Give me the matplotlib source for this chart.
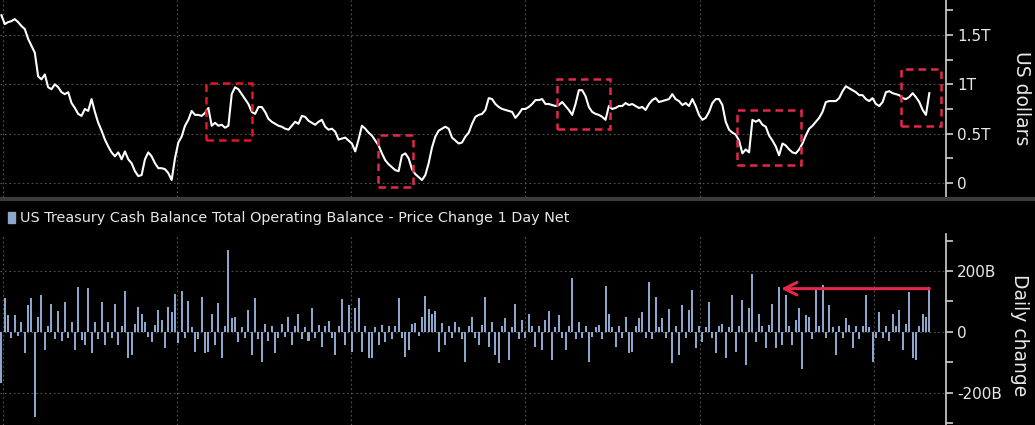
import matplotlib
matplotlib.use("Agg")
import matplotlib.pyplot as plt
import matplotlib.dates as mdates
from matplotlib.lines import Line2D
from matplotlib.patches import Rectangle
from matplotlib.ticker import FixedLocator, MultipleLocator
import pandas as pd

# Treasury General Account balance, trillions of USD, weekly readings
balance_t = [
    1.70, 1.61, 1.63, 1.64, 1.66, 1.63, 1.59, 1.56, 1.46, 1.39,
    1.32, 1.08, 1.05, 1.10, 0.97, 0.95, 1.00, 0.97, 0.92, 0.90,
    0.92, 0.81, 0.76, 0.70, 0.68, 0.75, 0.73, 0.85, 0.72, 0.61,
    0.53, 0.44, 0.37, 0.31, 0.27, 0.31, 0.24, 0.32, 0.24, 0.20,
    0.12, 0.07, 0.08, 0.24, 0.31, 0.27, 0.20, 0.15, 0.15,
    0.14, 0.10, 0.03, 0.25, 0.41, 0.47, 0.58, 0.64, 0.73, 0.69,
    0.69, 0.68, 0.71, 0.76, 0.58, 0.61, 0.58, 0.59, 0.56, 0.58,
    0.90, 0.97, 0.95, 0.90, 0.85, 0.80, 0.72, 0.70, 0.77, 0.77,
    0.72, 0.65, 0.62, 0.60, 0.58, 0.57, 0.55, 0.54, 0.58, 0.62,
    0.60, 0.68, 0.67, 0.63, 0.61, 0.59,
    0.62, 0.64, 0.57, 0.54, 0.55, 0.52, 0.44, 0.45, 0.46, 0.43,
    0.40, 0.32, 0.44, 0.58, 0.55, 0.51, 0.48, 0.43, 0.38, 0.30,
    0.23, 0.19, 0.16, 0.13, 0.12, 0.28, 0.30, 0.25, 0.14, 0.09,
    0.06, 0.03, 0.08, 0.20, 0.36, 0.47, 0.53, 0.55, 0.57, 0.55,
    0.46, 0.43, 0.40, 0.41, 0.47, 0.51,
    0.60, 0.67, 0.69, 0.70, 0.74, 0.86, 0.85, 0.80, 0.77, 0.75,
    0.74, 0.73, 0.72, 0.66, 0.70, 0.75, 0.75, 0.77, 0.80, 0.84,
    0.84, 0.85, 0.80, 0.80, 0.79, 0.78, 0.79, 0.82, 0.78, 0.74,
    0.69, 0.80, 0.94, 0.94, 0.88, 0.77, 0.72, 0.70, 0.69, 0.67,
    0.64, 0.78, 0.75, 0.76, 0.78, 0.78, 0.81,
    0.79, 0.80, 0.78, 0.76, 0.77, 0.74, 0.80, 0.84, 0.86, 0.82,
    0.83, 0.84, 0.85, 0.90, 0.85, 0.83, 0.79, 0.81, 0.78, 0.85,
    0.78, 0.69, 0.64, 0.66, 0.72, 0.81, 0.85, 0.85, 0.79, 0.62,
    0.54, 0.51, 0.49, 0.43, 0.30, 0.34, 0.31, 0.64, 0.62, 0.64,
    0.59, 0.57, 0.48, 0.43, 0.37, 0.28,
    0.40, 0.38, 0.34, 0.31, 0.30, 0.34, 0.40, 0.48, 0.55, 0.58,
    0.62, 0.66, 0.72, 0.82, 0.83, 0.83, 0.83, 0.86, 0.93, 0.98,
    0.96, 0.94, 0.92, 0.89, 0.89, 0.85, 0.83, 0.86, 0.80, 0.78,
    0.82, 0.92, 0.93, 0.91, 0.90, 0.89, 0.86, 0.85, 0.87, 0.91,
    0.87, 0.82, 0.74, 0.69, 0.91,
]

# 1-day net change, billions of USD (largest move in each week)
daily_change_b = [
    -170, 110, 55, -20, 55, -15, 33, -71, 88, 110,
    -280, 49, 121, -60, 20, 90, -25, 68, -30, 99,
    -22, 33, -60, 146, -28, -44, 143, -71, 33, -25,
    99, -44, 33, -20, 93, -44, 18, 135, -88, -77,
    25, 82, 60, 33, -18, -33, 22, 71, 38, -55,
    82, 66, 124, -38, 135, -20, 101, 15, -66, -25,
    113, -71, -66, 60, -44, 96, -88, 20, 270, 44,
    49, -33, 15, -22, 71, -77, 110, -25, -99, 27,
    -30, 18, -71, -20, 27, -18, 49, -44, 20, 58,
    -25, 15, -30, 77, -20, 22, -49, 18, 35, -22,
    -77, 20, 108, -44, 88, -66, 77, 110, -66, 20,
    -88, -88, 15, -44, 22, -33, 18, -25, 20, 110,
    -20, -82, -60, 25, 30, -15, 49, 119, 75, 60,
    68, -66, 28, -44, 20, -22, 33, 15, -25, -99,
    18, 49, -20, -44, 22, 115, -49, 33, -77, -104,
    20, 47, -93, 15, 93, -25, 38, -20, 58, 18,
    -49, 20, -60, 38, 69, -93, 15, 55, -22, -60,
    20, 176, -25, 33, -20, 18, -101, -18, 16, 22,
    -25, 151, 58, 15, -49, 20, -22, 49, -71, -66,
    18, 44, 66, -20, 163, -25, 115, 15, 44, -22,
    74, -104, 18, -77, 88, -20, 71, 137, -55, 20,
    -33, 15, 97, -22, -71, 18, 25, -88, 15, 121,
    -66, 20, 104, -110, 77, 189, -33, 60, 18, -55,
    22, 90, -55, 148, -44, 121, 20, -44, 40, 77,
    -121, 55, 49, -25, 137, 20, 154, -22, 88, 15,
    -77, 18, -20, 44, 22, -55, 18, -25, 20, 121,
    15, -99, -20, 66, -22, 18, -30, 60, 20, 71,
    -60, 25, 132, -88, -93, 20, 60, 50, 148,
]

dates = pd.date_range("2020-12-28", periods=len(balance_t), freq="7D")
bar_dates = pd.date_range("2020-12-28", periods=len(daily_change_b), freq="7D")

# highlighted windows: start, end, low, high (trillions)
highlight_boxes = [
    ("2022-03-02", "2022-06-07", 0.436, 1.013),
    ("2023-02-26", "2023-05-10", -0.040, 0.486),
    ("2024-03-07", "2024-06-26", 0.547, 1.054),
    ("2025-03-20", "2025-08-01", 0.182, 0.740),
    ("2026-02-26", "2026-05-21", 0.578, 1.155),
]

bg = "black"
txt = "#e8e8e8"
grid_col = "#555555"
bar_col = "#8ca6cc"
red = "#e3284b"

fig = plt.figure(figsize=(10.35, 4.25), dpi=100, facecolor=bg)
ax1 = fig.add_axes([0, 1 - 197 / 425, 946 / 1035, 197 / 425])
ax2 = fig.add_axes([0, 0, 946 / 1035, 191 / 425])

xmin = pd.Timestamp("2020-12-25")
xmax = pd.Timestamp("2026-06-01")

for ax in (ax1, ax2):
    ax.set_facecolor(bg)
    for s in ("left", "top", "bottom"):
        ax.spines[s].set_visible(False)
    ax.spines["right"].set_color("#cfcfcf")
    ax.spines["right"].set_linewidth(1.2)
    ax.yaxis.tick_right()
    ax.set_xlim(xmin, xmax)
    ax.xaxis.set_major_locator(mdates.YearLocator())
    ax.tick_params(axis="x", length=0, labelbottom=False)
    ax.tick_params(axis="y", which="major", colors="#cfcfcf", labelcolor=txt,
                   length=5, width=1.2, labelsize=11, pad=3)
    ax.tick_params(axis="y", which="minor", colors="#cfcfcf", length=5, width=1.2)
    ax.grid(True, which="major", linestyle=(0, (1.5, 2.5)), color=grid_col, linewidth=0.8)
    ax.set_axisbelow(True)

# top panel: balance
ax1.plot(dates, balance_t, color="white", linewidth=1.5, solid_joinstyle="round")
ax1.set_ylim(-0.142, 1.854)
ax1.yaxis.set_major_locator(FixedLocator([0, 0.5, 1.0, 1.5]))
ax1.set_yticklabels(["0", "0.5T", "1T", "1.5T"])
ax1.yaxis.set_minor_locator(MultipleLocator(0.25))

for i, (start, end, lo, hi) in enumerate(highlight_boxes):
    x0 = mdates.date2num(pd.Timestamp(start))
    x1 = mdates.date2num(pd.Timestamp(end))
    ax1.add_patch(Rectangle((x0, lo), x1 - x0, hi - lo, fill=False,
                            edgecolor="#e8141e" if i == 0 else red,
                            linewidth=1.8, linestyle=(0, (3, 2)), zorder=5))

# bottom panel: daily change
ax2.bar(mdates.date2num(bar_dates), daily_change_b, width=4.2, color=bar_col,
        linewidth=0, zorder=3)
ax2.set_ylim(-307, 322)
ax2.yaxis.set_major_locator(FixedLocator([-200, 0, 200]))
ax2.set_yticklabels(["-200B", "0", "200B"])
ax2.yaxis.set_minor_locator(MultipleLocator(100))

ax2.annotate("", xy=(pd.Timestamp("2025-06-20"), 142), xytext=(bar_dates[-1], 142),
             arrowprops=dict(arrowstyle="->,head_length=0.9,head_width=0.45",
                             color=red, linewidth=2.2, shrinkA=0, shrinkB=0),
             zorder=6)

# panel separator
fig.add_artist(Line2D([0, 1], [1 - 199 / 425, 1 - 199 / 425], color="#3c3c3c",
                      linewidth=3, transform=fig.transFigure))

# legend row of bottom panel
fig.add_artist(Rectangle((8 / 1035, 1 - 223 / 425), 7 / 1035, 11 / 425,
                         transform=fig.transFigure, color=bar_col))
fig.text(20 / 1035, 1 - 218 / 425, "US Treasury Cash Balance Total Operating Balance - Price Change 1 Day Net",
         color=txt, fontsize=10.4, va="center", ha="left")

fig.text(1022 / 1035, 1 - 98 / 425, "US dollars", color=txt, fontsize=13.5,
         rotation=270, va="center", ha="center")
fig.text(1020 / 1035, 1 - 335 / 425, "Daily change", color=txt, fontsize=13.5,
         rotation=270, va="center", ha="center")

fig.savefig("out.png", dpi=100, facecolor=bg)
